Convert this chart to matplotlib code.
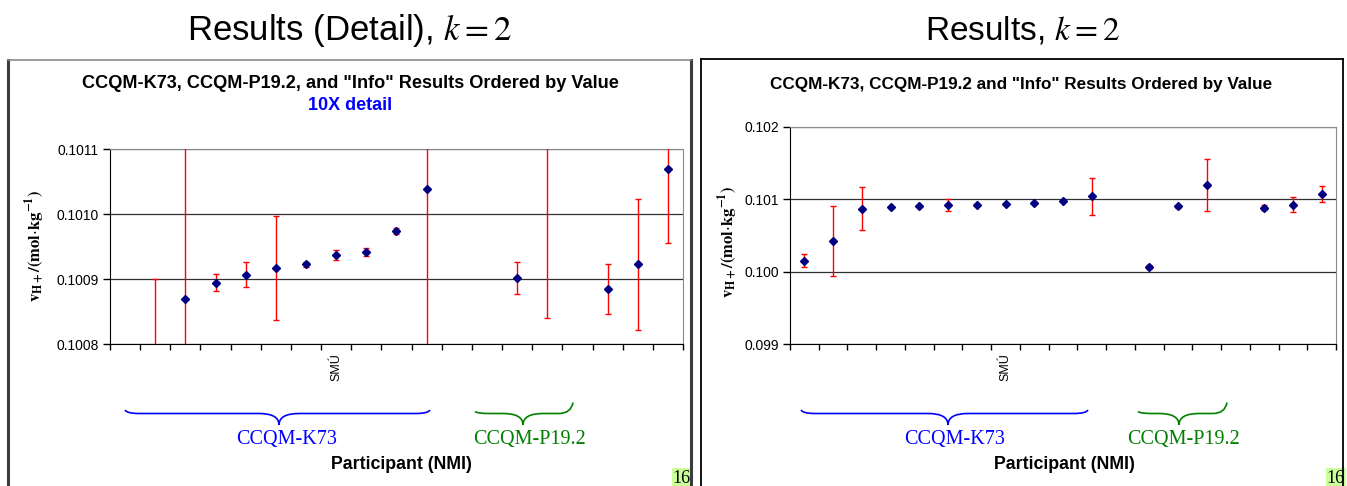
"""
CCQM-K73 / CCQM-P19.2 results, k = 2
left: 10X detail, right: full range
"""

import numpy as np
import matplotlib
matplotlib.use('Agg')
import matplotlib.pyplot as plt
from matplotlib.path import Path
from matplotlib.patches import PathPatch, Rectangle
from matplotlib.lines import Line2D

plt.rcParams['font.family'] = ['Liberation Sans', 'DejaVu Sans']
plt.rcParams['mathtext.fontset'] = 'stix'

# results ordered by value (19 slots, nan = empty slot)
VALUES = [0.100152, 0.100423, 0.100870, 0.100895, 0.100907, 0.100918, 0.100923,
          0.100937, 0.100942, 0.100974, 0.101039, np.nan, 0.100069, 0.100902,
          0.101200, np.nan, 0.100885, 0.100923, 0.101070]
# expanded uncertainty, k = 2
U_K2 = [0.000090, 0.000477, 0.000300, 0.000013, 0.000019, 0.000080, 0.000004,
        0.000008, 0.000006, 0.000005, 0.000255, np.nan, 0.000030, 0.000024,
        0.000360, np.nan, 0.000038, 0.000101, 0.000114]
TICK_LABELS = ['', '', '', '', '', '', '', 'SMÚ', '', '', '', '', '', '', '', '', '', '', '']

YLABEL = r'$\mathbf{v_{H+}/(mol}{\cdot}\mathbf{kg^{-1})}$'

W, H = 1347, 486


def fx(x):
    return x / W


def fy(y):
    return 1 - y / H


def results_axes(fig, rect, ylim, yticks, yfmt):
    ax = fig.add_axes(rect)
    x = np.arange(len(VALUES))
    ax.errorbar(x, VALUES, yerr=U_K2, fmt='none', ecolor='red', elinewidth=1,
                capsize=2.3, capthick=1, zorder=3)
    ax.plot(x, VALUES, 'D', color='#000080', ms=4, zorder=4)
    ax.set_xlim(-0.5, len(VALUES) - 0.5)
    ax.set_ylim(*ylim)
    ax.set_yticks(yticks)
    ax.set_yticklabels([yfmt.format(t) for t in yticks], fontsize=10)
    ax.set_xticks(np.arange(len(VALUES) + 1) - 0.5)
    ax.set_xticklabels([])
    ax.set_xticks(x, minor=True)
    ax.set_xticklabels(TICK_LABELS, minor=True, rotation=90, fontsize=9, va='top')
    ax.tick_params(axis='x', which='major', length=4, width=1, direction='out')
    ax.tick_params(axis='x', which='minor', length=0, pad=6)
    ax.tick_params(axis='y', length=5, width=1, direction='out', pad=3)
    ax.yaxis.grid(True, color='#303030', lw=0.9)
    ax.set_axisbelow(True)
    for s in ['top', 'right']:
        ax.spines[s].set_color('#8a8a8a')
    for s in ['left', 'bottom']:
        ax.spines[s].set_color('black')
    return ax


def brace(fig, x0, x1, xm, y_l, y_r, color, y_line=413.5, y_tip=425):
    pts = [(x0, y_l), (x0 + 2, y_line), (x0 + 14, y_line),
           (xm - 20, y_line),
           (xm, y_line), (xm, y_tip),
           (xm, y_line), (xm + 20, y_line),
           (x1 - 14, y_line),
           (x1 - 2, y_line), (x1, y_r)]
    codes = [Path.MOVETO, Path.CURVE3, Path.CURVE3,
             Path.LINETO,
             Path.CURVE3, Path.CURVE3,
             Path.CURVE3, Path.CURVE3,
             Path.LINETO,
             Path.CURVE3, Path.CURVE3]
    verts = [(fx(a), fy(b)) for a, b in pts]
    fig.add_artist(PathPatch(Path(verts, codes), fill=False, ec=color, lw=1.2,
                             transform=fig.transFigure))


def page_box(fig, x0, x1, y0, side_color, side_lw, top_color, top_lw):
    fig.add_artist(Line2D([fx(x0), fx(x0)], [fy(y0), 0], color=side_color, lw=side_lw,
                          transform=fig.transFigure))
    fig.add_artist(Line2D([fx(x1), fx(x1)], [fy(y0), 0], color=side_color, lw=side_lw,
                          transform=fig.transFigure))
    fig.add_artist(Line2D([fx(x0), fx(x1)], [fy(y0), fy(y0)], color=top_color, lw=top_lw,
                          transform=fig.transFigure))


def page_number(fig, x0):
    fig.add_artist(Rectangle((fx(x0), 0), fx(20), fy(468), fc='#ccff99', ec='none',
                             transform=fig.transFigure))
    fig.text(fx(x0 + 1), fy(470), '16', fontsize=13, family='Liberation Serif',
             ha='left', va='top')


fig = plt.figure(figsize=(W / 100, H / 100), dpi=100)

# left slide: detail
page_box(fig, 8, 691, 60, '#3c3c3c', 2.2, '#8a8a8a', 1.2)
fig.text(fx(349), fy(30), 'Results (Detail), $k = 2$', ha='center', va='center', fontsize=25)
fig.text(fx(350), fy(84), 'CCQM-K73, CCQM-P19.2, and "Info" Results Ordered by Value',
         ha='center', va='center', fontsize=13.1, weight='bold')
fig.text(fx(350), fy(105), '10X detail', ha='center', va='center', fontsize=13,
         weight='bold', color='#0000ff')
ax1 = results_axes(fig, [fx(110), fy(344.3), fx(683) - fx(110), fy(149.3) - fy(344.3)],
                   (0.1008, 0.1011), [0.1008, 0.1009, 0.1010, 0.1011], '{:.4f}')
fig.text(fx(35), fy(246), YLABEL, rotation=90, ha='center', va='center', fontsize=12)
brace(fig, 125, 430, 279, 410, 410, 'blue')
brace(fig, 475, 573, 523, 411.5, 402.5, 'green')
fig.text(fx(287), fy(439), 'CCQM-K73', ha='center', va='center', fontsize=14.5,
         family='Liberation Serif', color='blue')
fig.text(fx(529), fy(439), 'CCQM-P19.2', ha='center', va='center', fontsize=14.5,
         family='Liberation Serif', color='green')
fig.text(fx(401), fy(464), 'Participant (NMI)', ha='center', va='center', fontsize=12.8,
         weight='bold')
page_number(fig, 671.7)

# right slide: full range
page_box(fig, 701, 1343, 59.5, 'black', 1.3, 'black', 1.3)
fig.text(fx(1022), fy(30), 'Results, $k = 2$', ha='center', va='center', fontsize=24)
fig.text(fx(1021.5), fy(84), 'CCQM-K73, CCQM-P19.2 and "Info" Results Ordered by Value',
         ha='center', va='center', fontsize=12.3, weight='bold')
ax2 = results_axes(fig, [fx(790), fy(344.3), fx(1336) - fx(790), fy(126.7) - fy(344.3)],
                   (0.099, 0.102), [0.099, 0.100, 0.101, 0.102], '{:.3f}')
fig.text(fx(728), fy(242), YLABEL, rotation=90, ha='center', va='center', fontsize=12)
brace(fig, 801, 1088, 948, 410, 410, 'blue')
brace(fig, 1138, 1227, 1179, 411.5, 402.5, 'green')
fig.text(fx(955), fy(439), 'CCQM-K73', ha='center', va='center', fontsize=14.5,
         family='Liberation Serif', color='blue')
fig.text(fx(1183), fy(439), 'CCQM-P19.2', ha='center', va='center', fontsize=14.5,
         family='Liberation Serif', color='green')
fig.text(fx(1064), fy(464), 'Participant (NMI)', ha='center', va='center', fontsize=12.8,
         weight='bold')
page_number(fig, 1325.7)

fig.savefig('out.png', dpi=100)
